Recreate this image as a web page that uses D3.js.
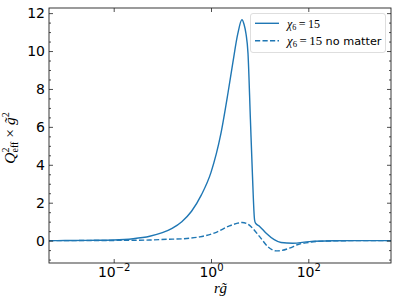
<!DOCTYPE html>
<html>
<head>
<meta charset="utf-8">
<script src="https://cdn.jsdelivr.net/npm/d3@7"></script>
<style>
  body { margin: 0; background: #fff; }
  svg { display: block; }
  .tick text { font-family: "DejaVu Sans", sans-serif; }
</style>
</head>
<body>
<svg id="container"></svg>
<script>
// r values (log10 of r~g) and Q^2_eff * g~^2
const solidLogR = [-3.33, -3, -2.5, -2, -1.6, -1.26, -1.0, -0.8, -0.6, -0.4, -0.2, 0, 0.2, 0.35, 0.45, 0.55, 0.635, 0.68, 0.72, 0.76, 0.81, 0.85, 0.895, 0.915, 1.0, 1.135, 1.3, 1.44, 1.68, 2.02, 2.5, 3.0, 3.7]
const solidQ = [0, 0.005, 0.015, 0.035, 0.1, 0.23, 0.42, 0.65, 1.0, 1.55, 2.4, 3.6, 5.6, 7.8, 9.4, 10.9, 11.65, 11.4, 10.9, 9.9, 6.4, 3.6, 1.1, 0.92, 0.75, 0.39, 0.05, -0.1, -0.14, -0.05, -0.01, 0, 0]

const dashedLogR = [-3.33, -2, -1.26, -0.91, -0.57, -0.23, 0.11, 0.38, 0.55, 0.64, 0.75, 0.83, 1.0, 1.17, 1.34, 1.45, 1.61, 1.82, 1.95, 2.2, 2.6, 3.0, 3.7]
const dashedQ = [0, 0.01, 0.03, 0.07, 0.1, 0.2, 0.44, 0.78, 0.92, 0.96, 0.88, 0.72, 0.21, -0.32, -0.54, -0.52, -0.4, -0.18, -0.12, -0.04, -0.01, 0, 0]

const xMajor = [1e-2, 1, 1e2]
const xMajorExp = ["\u22122", "0", "2"]
const yMajor = [0, 2, 4, 6, 8, 10, 12]

const W = 399, H = 306
const m = { left: 49, right: 391, top: 8, bottom: 263 }
const color = "#1f77b4"

const svg = d3.select("#container").attr("width", W).attr("height", H)

const x = d3.scaleLog().domain([Math.pow(10, -3.33), Math.pow(10, 3.7)]).range([m.left, m.right])
const y = d3.scaleLinear().domain([-1.18, 12.27]).range([m.bottom, m.top])

const yMinor = d3.range(-1, 12.01, 0.5).filter(v => !yMajor.includes(v))

// curves
const toPts = (lr, q) => lr.map((l, i) => [Math.pow(10, l), q[i]])
const line = d3.line().x(d => x(d[0])).y(d => y(d[1])).curve(d3.curveMonotoneX)

const clip = svg.append("clipPath").attr("id", "clip")
clip.append("rect").attr("x", m.left).attr("y", m.top).attr("width", m.right - m.left).attr("height", m.bottom - m.top)

const plot = svg.append("g").attr("clip-path", "url(#clip)")
plot.append("path")
    .attr("d", line(toPts(solidLogR, solidQ)))
    .attr("fill", "none").attr("stroke", color).attr("stroke-width", 1.4)
plot.append("path")
    .attr("d", line(toPts(dashedLogR, dashedQ)))
    .attr("fill", "none").attr("stroke", color).attr("stroke-width", 1.4)
    .attr("stroke-dasharray", "5.2,2.3")

// axes, ticks pointing inward
const styleAxis = g => {
	g.selectAll(".domain").remove()
	g.selectAll(".tick line").attr("stroke", "#222").attr("stroke-width", 0.8)
}

const bottomAxis = svg.append("g").attr("transform", `translate(0,${m.bottom})`)
   .call(d3.axisBottom(x).tickValues(xMajor).tickSize(-4).tickFormat(""))
bottomAxis.call(styleAxis)
bottomAxis.selectAll(".tick").append("text")
   .attr("fill", "#000").attr("text-anchor", "middle")
   .attr("font-size", 14)
   .each(function (d, i) {
	const t = d3.select(this)
	t.attr("y", 277 - m.bottom)
	t.append("tspan").text("10")
	t.append("tspan").attr("dy", -6).attr("font-size", 10).text(xMajorExp[i])
   })

svg.append("g").attr("transform", `translate(0,${m.top})`)
   .call(d3.axisTop(x).tickValues(xMajor).tickSize(-4).tickFormat(""))
   .call(styleAxis)

const leftAxis = svg.append("g").attr("transform", `translate(${m.left},0)`)
   .call(d3.axisLeft(y).tickValues(yMajor).tickSize(-4).tickFormat(d3.format("d")))
leftAxis.call(styleAxis)
leftAxis.selectAll(".tick text").attr("font-size", 14).attr("fill", "#000").attr("x", -4)
svg.append("g").attr("transform", `translate(${m.left},0)`)
   .call(d3.axisLeft(y).tickValues(yMinor).tickSize(-2).tickFormat(""))
   .call(styleAxis)

svg.append("g").attr("transform", `translate(${m.right},0)`)
   .call(d3.axisRight(y).tickValues(yMajor).tickSize(-4).tickFormat(""))
   .call(styleAxis)
svg.append("g").attr("transform", `translate(${m.right},0)`)
   .call(d3.axisRight(y).tickValues(yMinor).tickSize(-2).tickFormat(""))
   .call(styleAxis)

// frame
svg.append("rect")
   .attr("x", m.left).attr("y", m.top)
   .attr("width", m.right - m.left).attr("height", m.bottom - m.top)
   .attr("fill", "none").attr("stroke", "#222").attr("stroke-width", 0.9)

// axis labels
const mathFont = "'Liberation Serif', 'DejaVu Serif', serif"
const xl = svg.append("text")
   .attr("x", 220.5).attr("y", 292.5)
   .attr("text-anchor", "middle")
   .attr("font-family", mathFont).attr("font-style", "italic").attr("font-size", 15)
xl.append("tspan").text("rg\u0303")

const yl = svg.append("text")
   .attr("transform", "translate(15,138) rotate(-90)")
   .attr("text-anchor", "middle")
   .attr("font-family", mathFont).attr("font-size", 15.5)
yl.append("tspan").attr("font-style", "italic").text("Q")
yl.append("tspan").attr("font-size", 10).attr("dy", -6).text("2")
yl.append("tspan").attr("font-size", 10).attr("dy", 9).attr("dx", -5).text("eff")
yl.append("tspan").attr("dy", -3).text(" \u00d7 ")
yl.append("tspan").attr("font-style", "italic").text("g\u0303")
yl.append("tspan").attr("font-size", 10).attr("dy", -6).text("2")

// legend
const lg = svg.append("g")
lg.append("rect")
  .attr("x", 250.5).attr("y", 13.5).attr("width", 135).attr("height", 39)
  .attr("rx", 2.5).attr("fill", "#fff").attr("fill-opacity", 0.8)
  .attr("stroke", "#d6d6d6").attr("stroke-width", 0.8)

const legendRows = [
	{ dash: null, suffix: "", width: 33 },
	{ dash: "5.2,2.3", suffix: " no matter", width: 94.5 }
]
legendRows.forEach((row, i) => {
	const cy = 23.3 + i * 17.4
	lg.append("line")
	  .attr("x1", 255).attr("x2", 279).attr("y1", cy).attr("y2", cy)
	  .attr("stroke", color).attr("stroke-width", 1.4)
	  .attr("stroke-dasharray", row.dash)
	const t = lg.append("text").attr("x", 287).attr("y", cy + 4.5)
	const parts = [
		{ txt: "\u03c7", fs: 12.5, italic: true, dy: 0 },
		{ txt: "6", fs: 8.5, dy: 2 },
		{ txt: "\u2009=\u200915", fs: 12.5, dy: -2 }
	]
	if (row.suffix) parts.push({ txt: row.suffix, fs: 11, sans: true, dy: 0 })
	const spans = parts.map(p => t.append("tspan")
		.attr("font-family", p.sans ? "'DejaVu Sans', sans-serif" : mathFont)
		.attr("font-style", p.italic ? "italic" : null)
		.attr("font-size", p.fs).attr("dy", p.dy).text(p.txt))
	// match the legend entry width seen in the picture
	const k = row.width / t.node().getComputedTextLength()
	spans.forEach((s, j) => s.attr("font-size", parts[j].fs * Math.min(Math.max(k, 0.8), 1.4)))
})
</script>
</body>
</html>
